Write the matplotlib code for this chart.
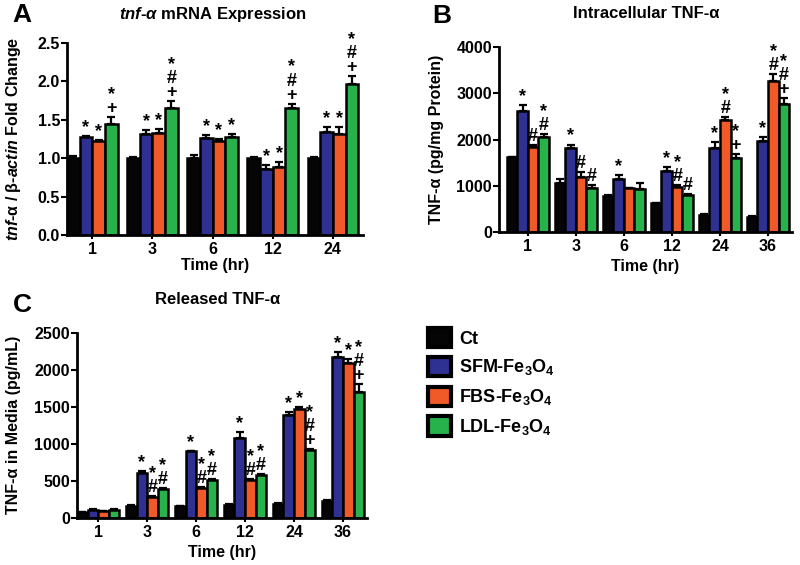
import matplotlib
matplotlib.use("Agg")
import matplotlib.pyplot as plt
from matplotlib.patches import Patch
import numpy as np

plt.rcParams["font.family"] = ["Liberation Sans", "DejaVu Sans"]
plt.rcParams["font.weight"] = "bold"
plt.rcParams["mathtext.fontset"] = "custom"
plt.rcParams["mathtext.rm"] = "Liberation Sans:bold"
plt.rcParams["mathtext.it"] = "Liberation Sans:italic:bold"
plt.rcParams["mathtext.bf"] = "Liberation Sans:bold"

series = ["Ct", "SFM-Fe$_3$O$_4$", "FBS-Fe$_3$O$_4$", "LDL-Fe$_3$O$_4$"]
colors = ["#050505", "#2e3192", "#f05a28", "#27b24b"]

# panel A: tnf-a mRNA fold change
a_times = ["1", "3", "6", "12", "24"]
a_vals = [
    [1.00, 1.00, 1.00, 1.00, 1.00],
    [1.27, 1.31, 1.26, 0.86, 1.34],
    [1.22, 1.33, 1.23, 0.89, 1.32],
    [1.45, 1.66, 1.28, 1.66, 1.97],
]
a_err = [
    [0.03, 0.01, 0.04, 0.01, 0.01],
    [0.02, 0.06, 0.04, 0.05, 0.06],
    [0.02, 0.05, 0.02, 0.06, 0.08],
    [0.08, 0.08, 0.03, 0.05, 0.10],
]
a_marks = [
    ["", "", "", "", ""],
    ["*", "*", "*", "*", "*"],
    ["*", "*", "*", "*", "*"],
    ["*\n+", "*\n#\n+", "*", "*\n#\n+", "*\n#\n+"],
]

# panel B: intracellular TNF-a
b_times = ["1", "3", "6", "12", "24", "36"]
b_vals = [
    [1620, 1060, 780, 620, 370, 330],
    [2620, 1820, 1150, 1320, 1820, 1970],
    [1830, 1180, 950, 980, 2430, 3260],
    [2060, 950, 920, 800, 1610, 2770],
]
b_err = [
    [10, 80, 10, 10, 10, 10],
    [130, 70, 80, 80, 130, 80],
    [60, 110, 10, 30, 60, 150],
    [50, 60, 140, 30, 70, 130],
]
b_marks = [
    ["", "", "", "", "", ""],
    ["*", "*", "*", "*", "*", "*"],
    ["#", "#", "", "*\n#", "*\n#", "*\n#"],
    ["*\n#", "#", "", "#", "*\n+", "*\n#\n+"],
]

# panel C: released TNF-a
c_times = ["1", "3", "6", "12", "24", "36"]
c_vals = [
    [75, 160, 160, 180, 195, 235],
    [110, 610, 900, 1080, 1390, 2180],
    [95, 290, 410, 520, 1470, 2100],
    [110, 390, 520, 580, 920, 1700],
]
c_err = [
    [5, 10, 5, 5, 5, 5],
    [10, 20, 10, 80, 40, 60],
    [5, 10, 10, 10, 25, 50],
    [5, 15, 10, 15, 10, 110],
]
c_marks = [
    ["", "", "", "", "", ""],
    ["", "*", "*", "*", "*", "*"],
    ["", "*\n#", "*\n#", "*\n#", "*", "*"],
    ["", "*\n#", "*\n#", "*\n#", "*\n#\n+", "*\n#\n+"],
]


def bar_panel(ax, times, vals, errs, marks, width, ylim, yticks, ytick_fmt, xlim):
    x = np.arange(len(times))
    for j in range(4):
        pos = x + (j - 1.5) * width
        ax.bar(pos, vals[j], width, color=colors[j], edgecolor="black",
               linewidth=1.8, zorder=2)
        ax.errorbar(pos, vals[j], yerr=[np.zeros(len(times)), errs[j]], fmt="none",
                    ecolor="black", elinewidth=1.6, capsize=3, capthick=1.6, zorder=1)
        for k in range(len(times)):
            if marks[j][k]:
                ax.annotate(marks[j][k], (pos[k], vals[j][k] + errs[j][k]),
                            xytext=(0, 0), textcoords="offset points",
                            ha="center", va="bottom", fontsize=13,
                            fontweight="bold", linespacing=0.78)
    ax.set_xticks(x)
    ax.set_xticklabels(times)
    ax.set_xlim(*xlim)
    ax.set_ylim(*ylim)
    ax.set_yticks(yticks)
    ax.set_yticklabels([ytick_fmt.format(t) for t in yticks])
    for s in ["top", "right"]:
        ax.spines[s].set_visible(False)
    for s in ["left", "bottom"]:
        ax.spines[s].set_linewidth(2)
    ax.tick_params(axis="y", direction="out", length=4, width=1.5, labelsize=11.5, pad=1)
    ax.tick_params(axis="x", direction="out", length=3, width=1.5, labelsize=11.5, pad=2)
    for lab in ax.get_xticklabels() + ax.get_yticklabels():
        lab.set_fontweight("bold")


fig = plt.figure(figsize=(8, 5.65), dpi=100)
W, H = 800.0, 565.0


def axes_px(left, top, right, bottom):
    return fig.add_axes([left / W, 1 - bottom / H, (right - left) / W, (bottom - top) / H])


ax_a = axes_px(67, 43, 363, 235)
bar_panel(ax_a, a_times, a_vals, a_err, a_marks, 0.21, (0, 2.5),
          [0, 0.5, 1.0, 1.5, 2.0, 2.5], "{:.1f}", (-0.42, 4.5))

ax_b = axes_px(499, 47, 792, 232)
bar_panel(ax_b, b_times, b_vals, b_err, b_marks, 0.22, (0, 4000),
          [0, 1000, 2000, 3000, 4000], "{:d}", (-0.6, 5.5))

ax_c = axes_px(77, 333, 367, 518)
bar_panel(ax_c, c_times, c_vals, c_err, c_marks, 0.215, (0, 2500),
          [0, 500, 1000, 1500, 2000, 2500], "{:d}", (-0.43, 5.49))


def ftext(x, y, s, **kw):
    fig.text(x / W, 1 - y / H, s, ha="center", va="center", fontweight="bold", **kw)


# panel letters
ftext(22, 15, "A", fontsize=19)
ftext(442, 16, "B", fontsize=19)
ftext(22, 305, "C", fontsize=19)

# titles
ftext(213, 14, "$tnf$-$\\alpha$ mRNA Expression", fontsize=12)
ftext(646, 14, "Intracellular TNF-\u03b1", fontsize=12)
ftext(218, 300, "Released TNF-\u03b1", fontsize=12)

# x labels
ftext(215, 265, "Time (hr)", fontsize=11.5)
ftext(645, 266, "Time (hr)", fontsize=11.5)
ftext(222, 553, "Time (hr)", fontsize=11.5)

# y labels
ftext(14, 139, "$tnf$-\u03b1 / \u03b2-$actin$ Fold Change", fontsize=11.5, rotation=90)
ftext(436, 139, "TNF-\u03b1 (pg/mg Protein)", fontsize=11.5, rotation=90)
ftext(14, 425, "TNF-\u03b1 in Media (pg/mL)", fontsize=11.5, rotation=90)

handles = [Patch(facecolor=c, edgecolor="black", linewidth=3) for c in colors]
fig.legend(handles, series, loc="upper left", bbox_to_anchor=(428 / W, 1 - 328 / H),
           frameon=False, handlelength=1.27, handleheight=1.27,
           labelspacing=0.5, handletextpad=0.45, borderpad=0, borderaxespad=0,
           prop={"weight": "bold", "size": 13})

fig.savefig("out.png", dpi=100)
